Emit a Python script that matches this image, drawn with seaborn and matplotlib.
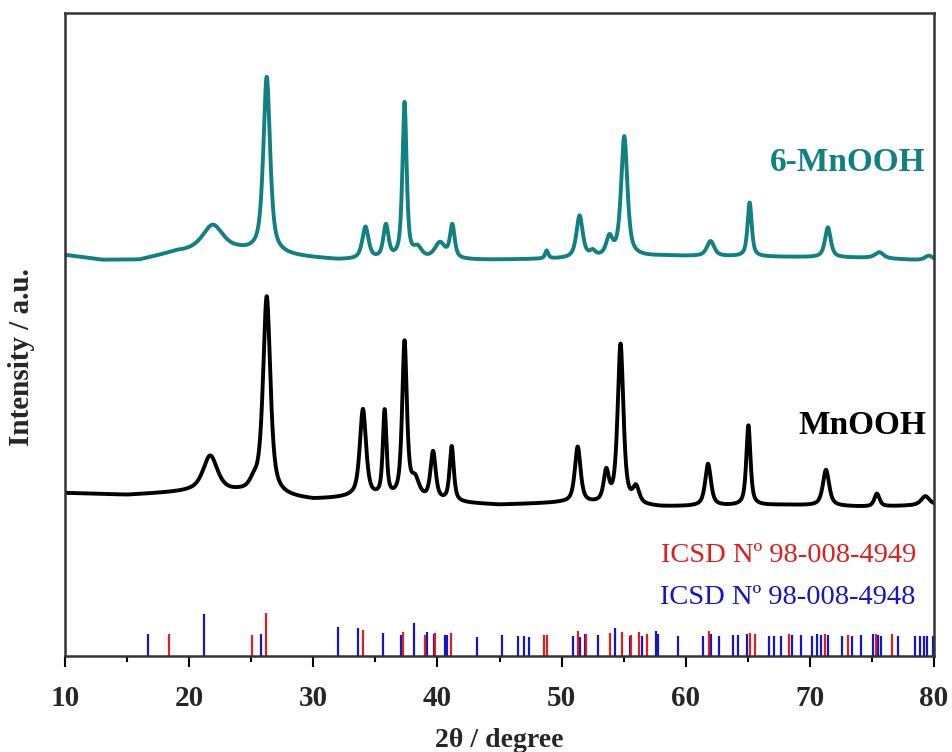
import numpy as np
import pandas as pd
import matplotlib
matplotlib.use("Agg")
import matplotlib.pyplot as plt
import seaborn as sns

# ---- reference patterns (2theta, relative intensity) ----
red_pos = [18.4, 25.1, 26.2, 34.0, 37.2, 39.0, 39.8, 41.1, 48.6, 48.8, 51.3, 52.0,
           53.9, 54.9, 55.6, 56.2, 56.9, 61.9, 65.2, 65.6, 68.3, 71.2, 73.1, 75.3, 76.6]
red_int = [22, 21, 43, 26, 24, 21, 23, 23, 21, 21, 25, 22,
           23, 24, 21, 24, 22, 25, 23, 22, 22, 22, 21, 22, 22]

blue_pos = [16.7, 21.2, 25.8, 32.0, 33.6, 35.6, 37.1, 38.1, 39.2, 39.7, 40.6, 40.8,
            43.2, 45.2, 46.5, 47.0, 47.4, 50.9, 51.5, 51.9, 52.9, 54.3, 55.5, 56.5,
            57.6, 57.8, 59.4, 61.4, 62.0, 62.7, 63.8, 64.2, 64.9, 66.7, 67.1, 67.7,
            68.6, 69.3, 70.2, 70.6, 70.9, 71.5, 72.6, 73.4, 74.1, 75.1, 75.5, 75.7,
            77.1, 78.5, 78.9, 79.2, 79.4, 79.9]
blue_int = [22, 42, 22, 29, 28, 23, 21, 33, 24, 22, 21, 21,
            19, 21, 20, 20, 19, 20, 19, 22, 21, 28, 20, 20,
            25, 22, 20, 20, 22, 20, 21, 21, 22, 20, 20, 20,
            21, 21, 20, 22, 21, 21, 20, 20, 21, 22, 21, 20,
            20, 20, 20, 20, 20, 20]

# ---- MnOOH: background anchors and reflections ----
mnooh_bg_x = [10, 15, 20, 24, 30, 33, 45, 50, 58, 68, 75, 80]
mnooh_bg_y = [163, 161, 164, 163, 156, 158, 151, 153, 149, 151, 149, 151]
mnooh_pos = [21.7, 25.2, 26.25, 34.0, 35.75, 37.35, 38.2, 39.65, 41.15,
             51.3, 53.6, 54.75, 56.0, 61.8, 65.05, 71.3, 75.4, 79.3]
mnooh_int = [36, 8, 198, 88, 86, 156, 18, 48, 55,
             56, 30, 160, 16, 42, 80, 36, 13, 9]
mnooh_fwhm = [1.4, 0.8, 0.7, 0.6, 0.35, 0.45, 0.8, 0.5, 0.4,
              0.55, 0.5, 0.55, 0.6, 0.55, 0.4, 0.6, 0.5, 0.8]

# ---- 6-MnOOH: background anchors and reflections ----
m6_bg_x = [10, 13, 16, 19, 24, 29, 32, 44, 50, 58, 68, 75, 80]
m6_bg_y = [401, 396, 396, 404, 405, 399, 396, 396, 397, 400, 399, 398, 395]
m6_pos = [21.9, 26.25, 34.2, 35.85, 37.35, 38.4, 40.2, 41.2, 48.8,
          51.45, 52.5, 53.85, 55.05, 62.0, 65.15, 71.45, 75.6, 79.6]
m6_int = [26, 176, 32, 33, 156, 10, 16, 33, 8,
          42, 5, 18, 120, 15, 54, 30, 6, 5]
m6_fwhm = [2.0, 0.65, 0.6, 0.5, 0.4, 0.8, 1.0, 0.45, 0.3,
           0.6, 0.5, 0.6, 0.6, 0.7, 0.4, 0.55, 0.8, 0.8]

teal = "#108080"
red = "#e01e1e"
blue = "#1414c8"


def pattern(x, bg_x, bg_y, pos, inten, fwhm, eta=0.7):
    y = np.interp(x, bg_x, bg_y).astype(float)
    for c, h, w in zip(pos, inten, fwhm):
        d2 = 4.0 * (x - c) ** 2 / w ** 2
        y += h * (eta / (1.0 + d2) + (1.0 - eta) * np.exp(-np.log(2.0) * d2))
    return y


two_theta = np.arange(10.0, 80.0001, 0.02)
df = pd.concat([
    pd.DataFrame({"2theta": two_theta,
                  "I": pattern(two_theta, mnooh_bg_x, mnooh_bg_y, mnooh_pos, mnooh_int, mnooh_fwhm),
                  "sample": "MnOOH"}),
    pd.DataFrame({"2theta": two_theta,
                  "I": pattern(two_theta, m6_bg_x, m6_bg_y, m6_pos, m6_int, m6_fwhm),
                  "sample": "6-MnOOH"}),
])

sns.set_theme(style="ticks")
plt.rcParams["font.family"] = ["Liberation Serif", "DejaVu Serif"]
plt.rcParams["font.weight"] = "bold"

fig = plt.figure(figsize=(9.52, 7.52), dpi=100)
ax = fig.add_axes([65 / 952, 1 - 656 / 752, (934 - 65) / 952, (656 - 13) / 752])

sns.lineplot(data=df, x="2theta", y="I", hue="sample", estimator=None, sort=False,
             palette={"MnOOH": "black", "6-MnOOH": teal}, linewidth=2.8,
             legend=False, ax=ax)

ax.vlines(blue_pos, 0, blue_int, colors=blue, linewidth=1.6)
ax.vlines(red_pos, 0, red_int, colors=red, linewidth=1.6)

ax.set_xlim(10, 80)
ax.set_ylim(0, 643)
ax.set_yticks([])
ax.set_xticks(np.arange(10, 81, 10))
ax.set_xticks(np.arange(15, 80, 10), minor=True)
ax.tick_params(axis="x", which="major", direction="out", length=8, width=1.5,
               pad=13, labelsize=21, color="black")
ax.tick_params(axis="x", which="minor", direction="out", length=4.5, width=1.5,
               color="black")
for lab in ax.get_xticklabels():
    lab.set_fontweight("bold")
for sp in ax.spines.values():
    sp.set_linewidth(1.8)
    sp.set_color("#333333")
    sp.set_visible(True)

ax.set_xlabel("2θ / degree", fontsize=20, fontweight="bold")
ax.set_ylabel("Intensity / a.u.", fontsize=21, fontweight="bold")
ax.xaxis.set_label_coords(0.5, -0.112)
ax.yaxis.set_label_coords(-0.034, 0.465)

ax.text(79.35, 494, "6-MnOOH", color=teal, fontsize=24, fontweight="bold",
        ha="right", va="center")
ax.text(79.35, 231, "MnOOH", color="black", fontsize=24, fontweight="bold",
        ha="right", va="center")
ax.text(78.55, 101, "ICSD Nº 98-008-4949", color=red, fontsize=20.5,
        fontweight="normal", ha="right", va="center")
ax.text(78.55, 59, "ICSD Nº 98-008-4948", color=blue, fontsize=20.5,
        fontweight="normal", ha="right", va="center")

fig.savefig("out.png", dpi=100, facecolor="white")
